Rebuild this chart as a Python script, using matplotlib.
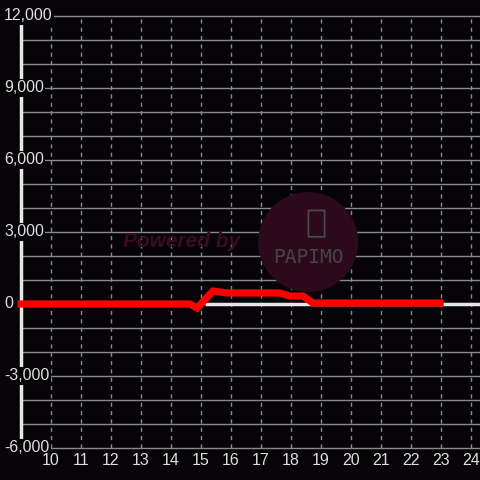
"""
Dark line chart: hourly value series with a small bump around 15-19h.
"""
import matplotlib
matplotlib.use("Agg")
import matplotlib.pyplot as plt
from matplotlib.patches import Ellipse, FancyBboxPatch

plt.rcParams['font.family'] = ['Liberation Sans', 'DejaVu Sans']

# data
hours = [9.0, 14.63, 14.87, 15.4, 15.87, 17.63, 17.97, 18.4, 18.73, 22.97]
values = [0, 0, -170, 540, 460, 460, 330, 330, 40, 40]
x_ticks = list(range(10, 25))
y_ticks = [12000, 9000, 6000, 3000, 0, -3000, -6000]
y_grid = list(range(-6000, 12001, 1000))

BG = "#060407"
GRID = "#8a8a8a"
TXT = "#dedede"

fig = plt.figure(figsize=(4.8, 4.8), dpi=100, facecolor=BG)
ax = fig.add_axes([0, 0, 1, 1], facecolor=BG)
ax.set_xlim(9 - 21 / 30, 9 + 459 / 30)
ax.set_ylim(-176 / 24 * 1000, 12000 + 16 / 24 * 1000)
ax.axis("off")

# grid
for y in y_grid:
    ax.plot([9, 24.5], [y, y], color=GRID, lw=1, zorder=1)
for x in x_ticks:
    ax.plot([x, x], [-6000, 12000], color=GRID, lw=1, ls=(0, (3, 3)), zorder=1)

# axis line and zero line
ax.plot([9, 9], [-6000, 12000], color="#e6e6e6", lw=2.5, zorder=2, solid_capstyle="butt")
ax.plot([15.2, 24.5], [0, 0], color="#e6e6e6", lw=2.5, zorder=2)

# watermark
ax.add_patch(Ellipse((18.57, 2580), 100 / 30, 100 / 24 * 1000, color="#2c0a1b", zorder=1.5, lw=0))
ax.add_patch(FancyBboxPatch((18.6, 2800), 0.5, 1100, boxstyle="round,pad=0.02",
                            fill=False, ec="#4a4a4a", lw=1.2, zorder=1.6))
ax.text(18.57, 1920, "PAPIMO", color="#454545", fontsize=14, ha="center", va="center",
        family=["DejaVu Sans Mono"], zorder=1.6)
ax.text(16.3, 2620, "Powered by", color="#3a0c1e", fontsize=15, fontweight="bold",
        fontstyle="italic", ha="right", va="center", zorder=1.6)

# series
ax.plot(hours, values, color="#ff0000", lw=5.2, zorder=3, solid_joinstyle="miter")

# tick labels
for y in y_ticks:
    ax.text(8.3 + 4 / 30, y, f"{y:,}", color=TXT, fontsize=11.5, ha="left", va="center",
            zorder=4, bbox=dict(fc=BG, ec="none", pad=1))
for x in x_ticks:
    ax.text(x, -6540, str(x), color=TXT, fontsize=11.5, ha="center", va="center", zorder=4)

fig.savefig("out.png", dpi=100, facecolor=BG)
